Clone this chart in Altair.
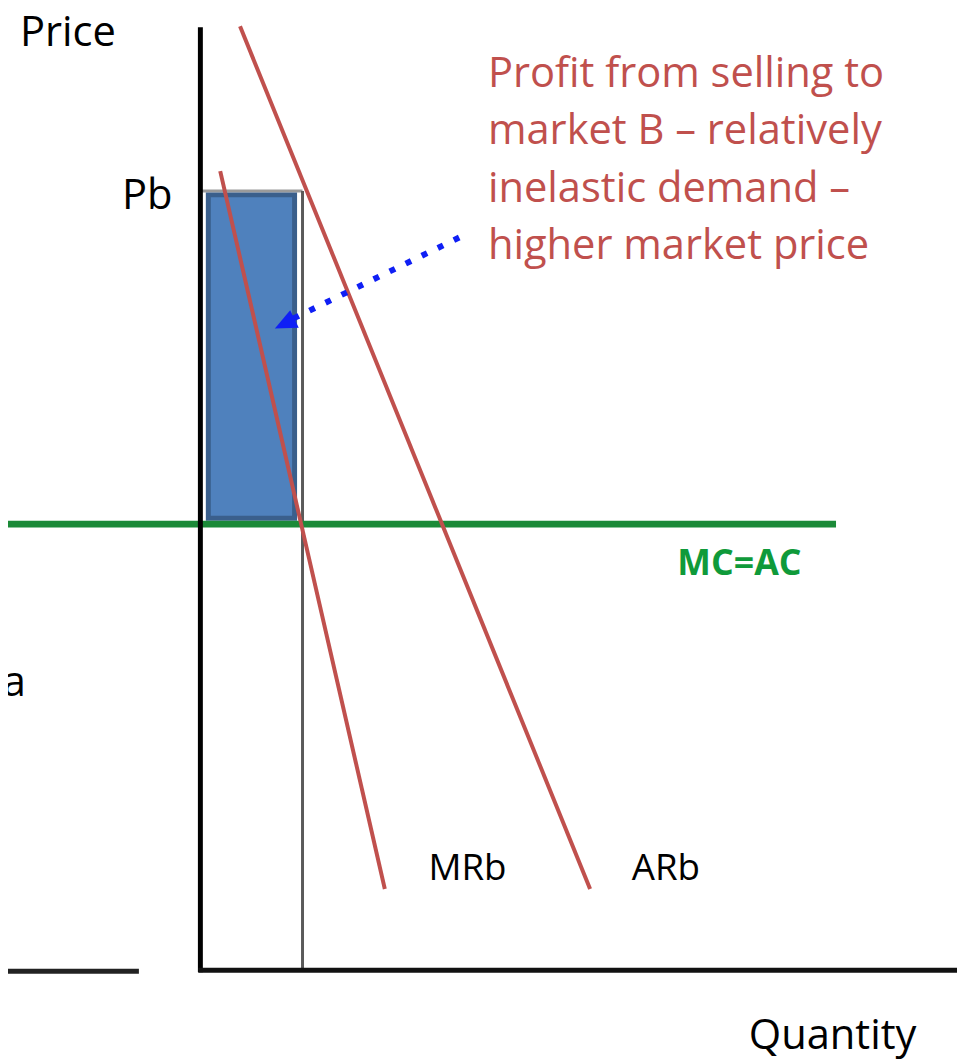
import altair as alt
import pandas as pd

# ---- data (quantity / price units; origin at the axes' corner) ----
mrb_q = [1.9, 18.5]
mrb_p = [80.6, 8.2]
arb_q = [3.9, 39.2]
arb_p = [95.2, 8.2]
mc_q = [-20.3, 64.0]
mc_p = [45.0, 45.0]
pb_price = 78.6
qb_quantity = 10.2
profit_q = [0.7, 9.4]
profit_p = [45.6, 78.2]
arrow_q = [26.0, 9.0]
arrow_p = [73.9, 65.6]
arrow_head = [8.4, 65.2]
axis_v_q = [-0.1, -0.1]
axis_v_p = [95.1, -0.2]
axis_h_q = [-0.3, 76.2]
axis_h_p = [0.0, 0.0]
left_axis_q = [-20.3, -6.3]
left_axis_p = [-0.1, -0.1]

note_lines = ["Profit from selling to", "market B \u2013 relatively",
              "inelastic demand \u2013", "higher market price"]
label_text = ["Price", "Pb", "Pa", "Quantity"]
label_q = [-18.3, -8.0, -17.7, 55.2]
label_p = [93.2, 76.8, 27.7, -7.9]
label_align = ["left", "left", "right", "left"]
curve_text = ["MRb", "ARb"]
curve_q = [22.9, 43.4]
curve_p = [9.1, 9.1]

XD = [-19.5, 76.2]
YD = [-8.9, 96.6]
xs = alt.Scale(domain=XD, nice=False, zero=False)
ys = alt.Scale(domain=YD, nice=False, zero=False)
FONT = "Open Sans"


def seg(qs, ps, color, width, dash=None, cap="butt"):
    df = pd.DataFrame({"q": [qs[0]], "p": [ps[0]], "q2": [qs[1]], "p2": [ps[1]]})
    kw = dict(color=color, strokeWidth=width, strokeCap=cap)
    if dash:
        kw["strokeDash"] = dash
    return alt.Chart(df).mark_rule(**kw).encode(
        x=alt.X("q:Q", scale=xs, axis=None),
        y=alt.Y("p:Q", scale=ys, axis=None),
        x2="q2:Q", y2="p2:Q")


layers = []
# gray guide lines of the profit box
layers.append(seg([0.0, qb_quantity], [pb_price, pb_price], "#9a9a9a", 3))
layers.append(seg([qb_quantity, qb_quantity], [pb_price, -0.1], "#5a5a5a", 3))

# profit rectangle
rect_df = pd.DataFrame({"q": [profit_q[0]], "q2": [profit_q[1]],
                        "p": [profit_p[0]], "p2": [profit_p[1]]})
layers.append(alt.Chart(rect_df).mark_rect(
    fill="#4f81bd", stroke="#3a5f8c", strokeWidth=5).encode(
    x=alt.X("q:Q", scale=xs, axis=None), x2="q2:Q",
    y=alt.Y("p:Q", scale=ys, axis=None), y2="p2:Q"))

# MC = AC
layers.append(seg(mc_q, mc_p, "#1b8a38", 7))
# axes
layers.append(seg(axis_v_q, axis_v_p, "#000000", 5))
layers.append(seg(axis_h_q, axis_h_p, "#111111", 5))
layers.append(seg(left_axis_q, left_axis_p, "#222222", 5))
# demand and MR
layers.append(seg(mrb_q, mrb_p, "#c0504d", 4))
layers.append(seg(arb_q, arb_p, "#c0504d", 4))

# dotted arrow
layers.append(seg(arrow_q, arrow_p, "#0f1ff5", 6, dash=[6, 12]))
head_df = pd.DataFrame({"q": [arrow_head[0]], "p": [arrow_head[1]]})
layers.append(alt.Chart(head_df).mark_point(
    shape="M0,-1L0.9,1L-0.9,1Z", size=484, angle=244, filled=True,
    color="#0f1ff5", opacity=1, strokeWidth=0).encode(
    x=alt.X("q:Q", scale=xs, axis=None), y=alt.Y("p:Q", scale=ys, axis=None)))

# labels
lab_df = pd.DataFrame({"t": label_text, "q": label_q, "p": label_p, "a": label_align})
for al in ["left", "right"]:
    sub = lab_df[lab_df["a"] == al]
    layers.append(alt.Chart(sub).mark_text(
        align=al, baseline="alphabetic", font=FONT, fontSize=42, color="#000000").encode(
        x=alt.X("q:Q", scale=xs, axis=None), y=alt.Y("p:Q", scale=ys, axis=None),
        text="t:N"))

curve_df = pd.DataFrame({"t": curve_text, "q": curve_q, "p": curve_p})
layers.append(alt.Chart(curve_df).mark_text(
    align="left", baseline="alphabetic", font=FONT, fontSize=37, color="#000000").encode(
    x=alt.X("q:Q", scale=xs, axis=None), y=alt.Y("p:Q", scale=ys, axis=None),
    text="t:N"))

mc_df = pd.DataFrame({"t": ["MC=AC"], "q": [48.0], "p": [39.9]})
layers.append(alt.Chart(mc_df).mark_text(
    align="left", baseline="alphabetic", font=FONT, fontSize=36, fontWeight="bold",
    color="#0f9a3a").encode(
    x=alt.X("q:Q", scale=xs, axis=None), y=alt.Y("p:Q", scale=ys, axis=None), text="t:N"))

note_df = pd.DataFrame({"q": [28.9], "p": [89.1]})
layers.append(alt.Chart(note_df).mark_text(
    align="left", baseline="alphabetic", font=FONT, fontSize=42, lineHeight=58,
    color="#c0504d", text=note_lines).encode(
    x=alt.X("q:Q", scale=xs, axis=None), y=alt.Y("p:Q", scale=ys, axis=None)))

chart = alt.layer(*layers).properties(
    width=957, height=1055,
    autosize=alt.AutoSizeParams(type="none"), padding=0,
).configure_view(stroke=None)

chart.save("out.html", embed_options={"renderer": "svg", "actions": False})
